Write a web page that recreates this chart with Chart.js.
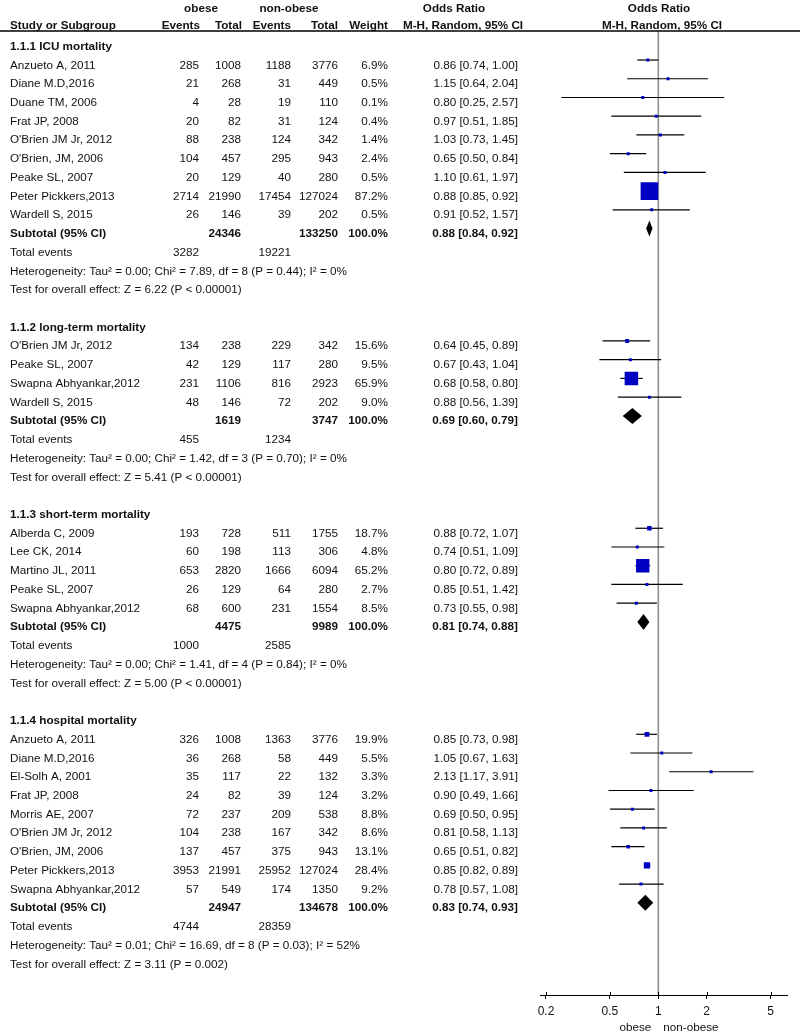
<!DOCTYPE html>
<html>
<head>
<meta charset="utf-8">
<script src="https://cdn.jsdelivr.net/npm/chart.js@4.4.1/dist/chart.umd.min.js"></script>
<style>
  html, body { margin: 0; padding: 0; background: #fff; }
  canvas { display: block; }
</style>
</head>
<body>
<canvas id="forest" width="800" height="1033" style="width:800px;height:1033px"></canvas>
<script>
// subgroups
const groupTitles = ['1.1.1 ICU mortality', '1.1.2 long-term mortality', '1.1.3 short-term mortality', '1.1.4 hospital mortality'];

// individual studies
const studyGroup = [0, 0, 0, 0, 0, 0, 0, 0, 0, 1, 1, 1, 1, 2, 2, 2, 2, 2, 3, 3, 3, 3, 3, 3, 3, 3, 3];
const studyNames = [
  'Anzueto A, 2011', 'Diane M.D,2016', 'Duane TM, 2006', 'Frat JP, 2008', "O'Brien JM Jr, 2012",
  "O'Brien, JM, 2006", 'Peake SL, 2007', 'Peter Pickkers,2013', 'Wardell S, 2015',
  "O'Brien JM Jr, 2012", 'Peake SL, 2007', 'Swapna Abhyankar,2012', 'Wardell S, 2015',
  'Alberda C, 2009', 'Lee CK, 2014', 'Martino JL, 2011', 'Peake SL, 2007', 'Swapna Abhyankar,2012',
  'Anzueto A, 2011', 'Diane M.D,2016', 'El-Solh A, 2001', 'Frat JP, 2008', 'Morris AE, 2007',
  "O'Brien JM Jr, 2012", "O'Brien, JM, 2006", 'Peter Pickkers,2013', 'Swapna Abhyankar,2012'
];
const obeseEvents = [285, 21, 4, 20, 88, 104, 20, 2714, 26, 134, 42, 231, 48, 193, 60, 653, 26, 68, 326, 36, 35, 24, 72, 104, 137, 3953, 57];
const obeseTotal = [1008, 268, 28, 82, 238, 457, 129, 21990, 146, 238, 129, 1106, 146, 728, 198, 2820, 129, 600, 1008, 268, 117, 82, 237, 238, 457, 21991, 549];
const nonObeseEvents = [1188, 31, 19, 31, 124, 295, 40, 17454, 39, 229, 117, 816, 72, 511, 113, 1666, 64, 231, 1363, 58, 22, 39, 209, 167, 375, 25952, 174];
const nonObeseTotal = [3776, 449, 110, 124, 342, 943, 280, 127024, 202, 342, 280, 2923, 202, 1755, 306, 6094, 280, 1554, 3776, 449, 132, 124, 538, 342, 943, 127024, 1350];
const weights = [6.9, 0.5, 0.1, 0.4, 1.4, 2.4, 0.5, 87.2, 0.5, 15.6, 9.5, 65.9, 9.0, 18.7, 4.8, 65.2, 2.7, 8.5, 19.9, 5.5, 3.3, 3.2, 8.8, 8.6, 13.1, 28.4, 9.2];
const oddsRatio = [0.86, 1.15, 0.80, 0.97, 1.03, 0.65, 1.10, 0.88, 0.91, 0.64, 0.67, 0.68, 0.88, 0.88, 0.74, 0.80, 0.85, 0.73, 0.85, 1.05, 2.13, 0.90, 0.69, 0.81, 0.65, 0.85, 0.78];
const ciLow = [0.74, 0.64, 0.25, 0.51, 0.73, 0.50, 0.61, 0.85, 0.52, 0.45, 0.43, 0.58, 0.56, 0.72, 0.51, 0.72, 0.51, 0.55, 0.73, 0.67, 1.17, 0.49, 0.50, 0.58, 0.51, 0.82, 0.57];
const ciHigh = [1.00, 2.04, 2.57, 1.85, 1.45, 0.84, 1.97, 0.92, 1.57, 0.89, 1.04, 0.80, 1.39, 1.07, 1.09, 0.89, 1.42, 0.98, 0.98, 1.63, 3.91, 1.66, 0.95, 1.13, 0.82, 0.89, 1.08];

// subtotals
const subObeseTotal = [24346, 1619, 4475, 24947];
const subNonObeseTotal = [133250, 3747, 9989, 134678];
const subOR = [0.88, 0.69, 0.81, 0.83];
const subLow = [0.84, 0.60, 0.74, 0.74];
const subHigh = [0.92, 0.79, 0.88, 0.93];
const totalObeseEvents = [3282, 455, 1000, 4744];
const totalNonObeseEvents = [19221, 1234, 2585, 28359];
const heterogeneity = [
  'Heterogeneity: Tau\u00b2 = 0.00; Chi\u00b2 = 7.89, df = 8 (P = 0.44); I\u00b2 = 0%',
  'Heterogeneity: Tau\u00b2 = 0.00; Chi\u00b2 = 1.42, df = 3 (P = 0.70); I\u00b2 = 0%',
  'Heterogeneity: Tau\u00b2 = 0.00; Chi\u00b2 = 1.41, df = 4 (P = 0.84); I\u00b2 = 0%',
  'Heterogeneity: Tau\u00b2 = 0.01; Chi\u00b2 = 16.69, df = 8 (P = 0.03); I\u00b2 = 52%'
];
const overallEffect = [
  'Test for overall effect: Z = 6.22 (P < 0.00001)',
  'Test for overall effect: Z = 5.41 (P < 0.00001)',
  'Test for overall effect: Z = 5.00 (P < 0.00001)',
  'Test for overall effect: Z = 3.11 (P = 0.002)'
];

const xTicks = [0.2, 0.5, 1, 2, 5];

// work out which row every line sits on
const groupRow = [];
const studyRow = [];
const subtotalRow = [];
let row = 0;
groupTitles.forEach((t, g) => {
  groupRow[g] = row++;
  studyGroup.forEach((sg, i) => {
    if (sg === g) studyRow[i] = row++;
  });
  subtotalRow[g] = row++;
  row += 4; // total events, heterogeneity, test, blank
});

const FONT = '11.7px "Liberation Sans", Arial, sans-serif';
const BOLD = 'bold 11.7px "Liberation Sans", Arial, sans-serif';
const fmt2 = v => v.toFixed(2);
const orText = (o, l, h) => fmt2(o) + ' [' + fmt2(l) + ', ' + fmt2(h) + ']';

// column anchors (right edge for numbers)
const COL_NAME = 10;
const COL_OE = 199;
const COL_OT = 241;
const COL_NE = 291;
const COL_NT = 338;
const COL_W = 388;
const COL_OR = 518;
const TEXT_DY = 8.5;

const points = studyNames.map((n, i) => ({ x: oddsRatio[i], y: studyRow[i] }));
const boxSide = weights.map(w => Math.max(3, 0.19 * w + 1));

const forestPlugin = {
  id: 'forest',
  beforeDatasetsDraw(chart) {
    const { ctx, chartArea, scales: { x, y } } = chart;
    ctx.save();
    // line of no effect
    const x1 = x.getPixelForValue(1);
    ctx.strokeStyle = '#8f8f8f';
    ctx.lineWidth = 1.6;
    ctx.beginPath();
    ctx.moveTo(x1, chartArea.top);
    ctx.lineTo(x1, chartArea.bottom);
    ctx.stroke();

    // confidence intervals
    ctx.strokeStyle = '#000';
    ctx.lineWidth = 1.2;
    studyNames.forEach((n, i) => {
      const py = y.getPixelForValue(studyRow[i]);
      ctx.beginPath();
      ctx.moveTo(x.getPixelForValue(ciLow[i]), py);
      ctx.lineTo(x.getPixelForValue(ciHigh[i]), py);
      ctx.stroke();
    });

    // subtotal diamonds
    ctx.fillStyle = '#000';
    subOR.forEach((v, g) => {
      const py = y.getPixelForValue(subtotalRow[g]);
      const pc = x.getPixelForValue(v);
      ctx.beginPath();
      ctx.moveTo(x.getPixelForValue(subLow[g]), py);
      ctx.lineTo(pc, py - 8);
      ctx.lineTo(x.getPixelForValue(subHigh[g]), py);
      ctx.lineTo(pc, py + 8);
      ctx.closePath();
      ctx.fill();
    });
    ctx.restore();
  },
  afterDraw(chart) {
    const { ctx, chartArea, scales: { x, y } } = chart;
    const ty = r => y.getPixelForValue(r) + TEXT_DY;
    const text = (s, px, py, align, bold) => {
      ctx.font = bold ? BOLD : FONT;
      ctx.textAlign = align;
      ctx.fillText(s, px, py);
    };
    ctx.save();
    ctx.fillStyle = '#111';
    ctx.textBaseline = 'alphabetic';

    // header
    text('obese', 201, 12, 'center', true);
    text('non-obese', 289, 12, 'center', true);
    text('Odds Ratio', 454, 12, 'center', true);
    text('Odds Ratio', 659, 12, 'center', true);
    text('Study or Subgroup', COL_NAME, 29, 'left', true);
    text('Events', COL_OE + 1, 29, 'right', true);
    text('Total', COL_OT + 1, 29, 'right', true);
    text('Events', COL_NE, 29, 'right', true);
    text('Total', COL_NT, 29, 'right', true);
    text('Weight', COL_W, 29, 'right', true);
    text('M-H, Random, 95% CI', 463, 29, 'center', true);
    text('M-H, Random, 95% CI', 662, 29, 'center', true);
    ctx.strokeStyle = '#000';
    ctx.lineWidth = 1.5;
    ctx.beginPath();
    ctx.moveTo(0, 31);
    ctx.lineTo(800, 31);
    ctx.stroke();

    groupTitles.forEach((t, g) => {
      text(t, COL_NAME, ty(groupRow[g]), 'left', true);
      const sr = subtotalRow[g];
      text('Subtotal (95% CI)', COL_NAME, ty(sr), 'left', true);
      text(String(subObeseTotal[g]), COL_OT, ty(sr), 'right', true);
      text(String(subNonObeseTotal[g]), COL_NT, ty(sr), 'right', true);
      text('100.0%', COL_W, ty(sr), 'right', true);
      text(orText(subOR[g], subLow[g], subHigh[g]), COL_OR, ty(sr), 'right', true);
      text('Total events', COL_NAME, ty(sr + 1), 'left', false);
      text(String(totalObeseEvents[g]), COL_OE, ty(sr + 1), 'right', false);
      text(String(totalNonObeseEvents[g]), COL_NE, ty(sr + 1), 'right', false);
      text(heterogeneity[g], COL_NAME, ty(sr + 2), 'left', false);
      text(overallEffect[g], COL_NAME, ty(sr + 3), 'left', false);
    });

    studyNames.forEach((n, i) => {
      const py = ty(studyRow[i]);
      text(n, COL_NAME, py, 'left', false);
      text(String(obeseEvents[i]), COL_OE, py, 'right', false);
      text(String(obeseTotal[i]), COL_OT, py, 'right', false);
      text(String(nonObeseEvents[i]), COL_NE, py, 'right', false);
      text(String(nonObeseTotal[i]), COL_NT, py, 'right', false);
      text(weights[i].toFixed(1) + '%', COL_W, py, 'right', false);
      text(orText(oddsRatio[i], ciLow[i], ciHigh[i]), COL_OR, py, 'right', false);
    });

    // tick marks also poke up above the axis line
    ctx.strokeStyle = '#000';
    ctx.lineWidth = 1;
    x.ticks.forEach(t => {
      const px = Math.round(x.getPixelForValue(t.value)) + 0.5;
      ctx.beginPath();
      ctx.moveTo(px, chartArea.bottom - 3);
      ctx.lineTo(px, chartArea.bottom);
      ctx.stroke();
    });

    // favours labels under the axis
    const x1 = x.getPixelForValue(1);
    text('obese', x1 - 7, 1031, 'right', false);
    text('non-obese', x1 + 5, 1031, 'left', false);
    ctx.restore();
  }
};

new Chart(document.getElementById('forest').getContext('2d'), {
  type: 'scatter',
  data: {
    datasets: [{
      data: points,
      pointStyle: 'rect',
      pointRadius: c => boxSide[c.dataIndex] / Math.SQRT2,
      backgroundColor: '#0000c4',
      borderColor: '#0000c4',
      borderWidth: 0
    }]
  },
  options: {
    responsive: false,
    animation: false,
    events: [],
    layout: { padding: { left: 540, right: 11, top: 31, bottom: 0 } },
    plugins: {
      legend: { display: false },
      tooltip: { enabled: false }
    },
    scales: {
      x: {
        type: 'logarithmic',
        min: 0.1836,
        max: 6.37,
        afterBuildTicks: s => { s.ticks = xTicks.map(v => ({ value: v })); },
        afterFit: s => { s.height = 38; },
        ticks: {
          callback: v => String(v),
          autoSkip: false,
          maxRotation: 0,
          padding: 5,
          color: '#111',
          font: { family: '"Liberation Sans", Arial, sans-serif', size: 12 }
        },
        grid: { drawOnChartArea: false, drawTicks: true, tickLength: 4, color: '#000' },
        border: { color: '#000', width: 1 }
      },
      y: {
        type: 'linear',
        reverse: true,
        min: -0.55,
        max: 50.92,
        display: false
      }
    }
  },
  plugins: [forestPlugin]
});
</script>
</body>
</html>
